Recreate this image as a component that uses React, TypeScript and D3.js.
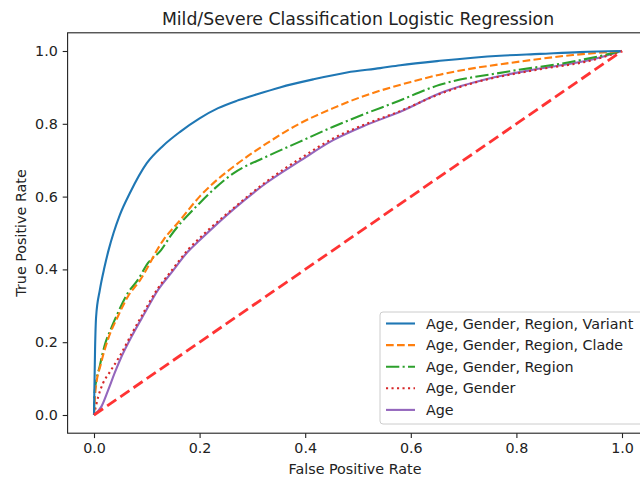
import { useRef, useEffect } from "react"
import * as d3 from "d3"

// ROC points (false positive rate / true positive rate)
const variantFpr = [0, 0.0005, 0.002, 0.004, 0.011, 0.02, 0.028, 0.037, 0.049, 0.068, 0.1, 0.131, 0.163, 0.2, 0.235, 0.27, 0.3, 0.352, 0.415, 0.479, 0.542, 0.58, 0.655, 0.769, 0.845, 0.92, 1]
const variantTpr = [0, 0.05, 0.18, 0.27, 0.343, 0.407, 0.455, 0.5, 0.55, 0.61, 0.692, 0.74, 0.778, 0.815, 0.843, 0.863, 0.877, 0.9, 0.922, 0.941, 0.953, 0.961, 0.973, 0.987, 0.992, 0.997, 1]

const cladeFpr = [0, 0.003, 0.013, 0.027, 0.045, 0.064, 0.087, 0.131, 0.163, 0.2, 0.226, 0.264, 0.327, 0.39, 0.453, 0.49, 0.542, 0.6, 0.655, 0.72, 0.782, 0.907, 1]
const cladeTpr = [0, 0.07, 0.14, 0.21, 0.27, 0.325, 0.37, 0.48, 0.535, 0.6, 0.637, 0.682, 0.746, 0.801, 0.843, 0.865, 0.891, 0.915, 0.935, 0.953, 0.966, 0.989, 1]

const regionFpr = [0, 0.001, 0.011, 0.02, 0.033, 0.045, 0.064, 0.083, 0.102, 0.127, 0.144, 0.2, 0.264, 0.327, 0.39, 0.453, 0.516, 0.567, 0.655, 0.782, 0.907, 0.97, 1]
const regionTpr = [0, 0.06, 0.135, 0.19, 0.24, 0.28, 0.335, 0.371, 0.417, 0.453, 0.49, 0.582, 0.664, 0.71, 0.751, 0.792, 0.829, 0.857, 0.907, 0.943, 0.971, 0.99, 1]

const genderFpr = [0, 0.008, 0.017, 0.03, 0.05, 0.071, 0.096, 0.121, 0.146, 0.178, 0.2, 0.264, 0.327, 0.39, 0.453, 0.516, 0.58, 0.655, 0.718, 0.845, 0.939, 1]
const genderTpr = [0, 0.05, 0.087, 0.118, 0.165, 0.222, 0.287, 0.348, 0.395, 0.454, 0.486, 0.568, 0.642, 0.704, 0.76, 0.8, 0.835, 0.882, 0.912, 0.95, 0.973, 1]

const ageFpr = [0, 0.014, 0.027, 0.039, 0.052, 0.071, 0.096, 0.121, 0.146, 0.178, 0.2, 0.264, 0.327, 0.39, 0.453, 0.516, 0.58, 0.655, 0.75, 0.845, 0.939, 1]
const ageTpr = [0, 0.023, 0.069, 0.115, 0.16, 0.215, 0.28, 0.343, 0.39, 0.449, 0.48, 0.565, 0.638, 0.698, 0.755, 0.797, 0.833, 0.884, 0.925, 0.952, 0.975, 1]

const labels = [
  "Age, Gender, Region, Variant",
  "Age, Gender, Region, Clade",
  "Age, Gender, Region",
  "Age, Gender",
  "Age",
]
const ticks = [0, 0.2, 0.4, 0.6, 0.8, 1.0]
const diagonal = [0, 1]

const font = "'DejaVu Sans', sans-serif"

const App = () => {
  const svgRef = useRef<SVGSVGElement>(null)

  useEffect(() => {
    const svg = d3.select(svgRef.current)
    svg.selectAll("*").remove()

    const x = d3.scaleLinear().domain([-0.05, 1.05]).range([67.6, 648.4])
    const y = d3.scaleLinear().domain([-0.05, 1.05]).range([433.2, 32.8])

    const series = [
      { fpr: variantFpr, tpr: variantTpr, color: "#1f77b4", dash: null },
      { fpr: cladeFpr, tpr: cladeTpr, color: "#ff7f0e", dash: "7.7,3.3" },
      { fpr: regionFpr, tpr: regionTpr, color: "#2ca02c", dash: "13.3,3.3,2.1,3.3" },
      { fpr: genderFpr, tpr: genderTpr, color: "#d62728", dash: "2.1,3.4" },
      { fpr: ageFpr, tpr: ageTpr, color: "#9467bd", dash: null },
    ]

    const line = d3
      .line<[number, number]>()
      .x((d) => x(d[0]))
      .y((d) => y(d[1]))
      .curve(d3.curveMonotoneX)

    const plot = svg.append("g")

    // draw back to front so the top entries sit above
    ;[...series].reverse().forEach((s) => {
      const pts = s.fpr.map((f, i) => [f, s.tpr[i]] as [number, number])
      plot
        .append("path")
        .datum(pts)
        .attr("fill", "none")
        .attr("stroke", s.color)
        .attr("stroke-width", 2.1)
        .attr("stroke-dasharray", s.dash)
        .attr("d", line)
    })

    // chance line
    plot
      .append("path")
      .datum(diagonal.map((d) => [d, d] as [number, number]))
      .attr("fill", "none")
      .attr("stroke", "#ff3333")
      .attr("stroke-width", 2.8)
      .attr("stroke-dasharray", "11,5")
      .attr("d", d3.line<[number, number]>().x((d) => x(d[0])).y((d) => y(d[1])))

    // frame
    svg
      .append("rect")
      .attr("x", x(-0.05))
      .attr("y", y(1.05))
      .attr("width", x(1.05) - x(-0.05))
      .attr("height", y(-0.05) - y(1.05))
      .attr("fill", "none")
      .attr("stroke", "#222")
      .attr("stroke-width", 1.1)

    // axes
    const xAxis = svg
      .append("g")
      .attr("transform", `translate(0,${y(-0.05)})`)
      .call(d3.axisBottom(x).tickValues(ticks).tickFormat(d3.format(".1f")).tickSize(4.9).tickPadding(4.9))
    const yAxis = svg
      .append("g")
      .attr("transform", `translate(${x(-0.05)},0)`)
      .call(d3.axisLeft(y).tickValues(ticks).tickFormat(d3.format(".1f")).tickSize(4.9).tickPadding(4.9))

    ;[xAxis, yAxis].forEach((a) => {
      a.select(".domain").remove()
      a.selectAll("line").attr("stroke", "#222").attr("stroke-width", 1.1)
      a.selectAll("text").attr("font-family", font).attr("font-size", 14.3).attr("fill", "#222")
    })

    // labels
    svg
      .append("text")
      .attr("x", (x(-0.05) + x(1.05)) / 2)
      .attr("y", 24.5)
      .attr("text-anchor", "middle")
      .attr("font-family", font)
      .attr("font-size", 17.3)
      .attr("fill", "#222")
      .text("Mild/Severe Classification Logistic Regression")

    svg
      .append("text")
      .attr("x", (x(-0.05) + x(1.05)) / 2 - 3)
      .attr("y", 474)
      .attr("text-anchor", "middle")
      .attr("font-family", font)
      .attr("font-size", 14.3)
      .attr("fill", "#222")
      .text("False Positive Rate")

    svg
      .append("text")
      .attr("transform", `translate(26,${(y(-0.05) + y(1.05)) / 2}) rotate(-90)`)
      .attr("text-anchor", "middle")
      .attr("font-family", font)
      .attr("font-size", 14.3)
      .attr("fill", "#222")
      .text("True Positive Rate")

    // legend
    const legend = svg.append("g").attr("transform", "translate(380,312)")
    legend
      .append("rect")
      .attr("width", 266)
      .attr("height", 112)
      .attr("rx", 3)
      .attr("fill", "white")
      .attr("fill-opacity", 0.8)
      .attr("stroke", "#cccccc")
      .attr("stroke-width", 1)

    const items = legend
      .selectAll("g.item")
      .data(series)
      .enter()
      .append("g")
      .attr("class", "item")
      .attr("transform", (d, i) => `translate(0,${11.5 + i * 21.6})`)

    items
      .append("line")
      .attr("x1", 6)
      .attr("x2", 35)
      .attr("stroke", (d) => d.color)
      .attr("stroke-width", 2.1)
      .attr("stroke-dasharray", (d) => d.dash)

    items
      .append("text")
      .attr("x", 46)
      .attr("dy", "0.35em")
      .attr("font-family", font)
      .attr("font-size", 14.3)
      .attr("fill", "#222")
      .text((d, i) => labels[i])
  }, [])

  return (
    <svg
      ref={svgRef}
      width={640}
      height={487}
      style={{ position: "absolute", left: 0, top: 0, background: "white" }}
    />
  )
}

export default App
